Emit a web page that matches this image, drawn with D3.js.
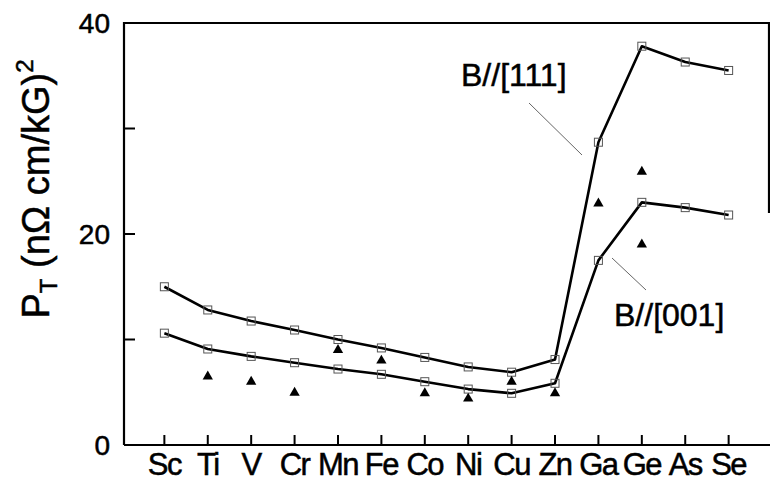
<!DOCTYPE html>
<html>
<head>
<meta charset="utf-8">
<script src="https://cdn.jsdelivr.net/npm/d3@7"></script>
<style>
  body { margin: 0; background: #fff; }
  svg { font-family: "Liberation Sans", Arial, sans-serif; }
  text { stroke: #000; stroke-width: 0.5px; }
</style>
</head>
<body>
<div id="chart"></div>
<script>
const width = 770, height = 477;
const margin = { top: 23, right: 1, bottom: 32, left: 124 };
const innerWidth = width - margin.left - margin.right;
const innerHeight = height - margin.top - margin.bottom;

const elements = ["Sc", "Ti", "V", "Cr", "Mn", "Fe", "Co", "Ni", "Cu", "Zn", "Ga", "Ge", "As", "Se"];
const b111 = [15.0, 12.8, 11.75, 10.9, 10.0, 9.2, 8.3, 7.4, 6.9, 8.1, 28.7, 37.8, 36.3, 35.5];
const b001 = [10.6, 9.1, 8.4, 7.8, 7.2, 6.7, 6.0, 5.3, 4.9, 5.85, 17.5, 23.0, 22.5, 21.8];
const triEl = ["Ti", "V", "Cr", "Mn", "Fe", "Co", "Ni", "Cu", "Zn", "Ga", "Ge", "Ge"];
const triVal = [6.5, 6.0, 4.95, 9.0, 8.0, 4.9, 4.4, 6.0, 4.9, 22.9, 25.9, 19.0];
const yTicks = [0, 10, 20, 30, 40];
const yLabels = [0, 20, 40];

const svg = d3.select("#chart").append("svg")
  .attr("width", width).attr("height", height)
  .attr("viewBox", [0, 0, width, height]);

const g = svg.append("g")
  .attr("transform", `translate(${margin.left}, ${margin.top})`);

const xScale = d3.scalePoint()
  .domain(elements)
  .range([0, innerWidth])
  .padding(0.93);

const yScale = d3.scaleLinear()
  .domain([0, 40])
  .range([innerHeight, 0]);

// frame
g.append("path")
  .attr("d", `M0,${innerHeight}V0H${innerWidth}V${yScale(22)}`)
  .attr("fill", "none").attr("stroke", "#000").attr("stroke-width", 2.2);
g.append("line")
  .attr("x1", 0).attr("x2", innerWidth + 1)
  .attr("y1", innerHeight).attr("y2", innerHeight)
  .attr("stroke", "#000").attr("stroke-width", 2.2);

// y ticks (inward)
g.selectAll(".ytick").data(yTicks.filter(d => d > 0 && d < 40)).join("line")
  .attr("x1", 0).attr("x2", 11)
  .attr("y1", d => yScale(d)).attr("y2", d => yScale(d))
  .attr("stroke", "#000").attr("stroke-width", 2);
g.selectAll(".ylab").data(yLabels).join("text")
  .attr("x", -14).attr("y", d => yScale(d) + 10)
  .attr("text-anchor", "end")
  .attr("font-size", 28)
  .text(d => d);

// x ticks (inward)
g.selectAll(".xtick").data(elements).join("line")
  .attr("x1", d => xScale(d)).attr("x2", d => xScale(d))
  .attr("y1", innerHeight).attr("y2", innerHeight - 10)
  .attr("stroke", "#000").attr("stroke-width", 2);
g.selectAll(".xlab").data(elements).join("text")
  .attr("x", d => xScale(d)).attr("y", innerHeight + 30)
  .attr("text-anchor", "middle")
  .attr("font-size", 31)
  .attr("letter-spacing", -1.5)
  .text(d => d);

// series lines
const line = d3.line()
  .x((d, i) => xScale(elements[i]))
  .y(d => yScale(d));

[b111, b001].forEach(series => {
  g.append("path")
    .datum(series)
    .attr("d", line)
    .attr("fill", "none")
    .attr("stroke", "#000")
    .attr("stroke-width", 2.6)
    .attr("stroke-linejoin", "round");
  g.selectAll(null).data(series).join("rect")
    .attr("x", (d, i) => xScale(elements[i]) - 4)
    .attr("y", d => yScale(d) - 4)
    .attr("width", 8).attr("height", 8)
    .attr("fill", "none")
    .attr("stroke", "#555")
    .attr("stroke-width", 1);
});

// triangles
const tri = d3.symbol().type(d3.symbolTriangle).size(46);
g.selectAll(".tri").data(triVal).join("path")
  .attr("d", tri)
  .attr("transform", (d, i) => `translate(${xScale(triEl[i])}, ${yScale(d)})`)
  .attr("fill", "#000");

// annotations
svg.append("line")
  .attr("x1", 529).attr("y1", 103).attr("x2", 582).attr("y2", 155)
  .attr("stroke", "#666").attr("stroke-width", 1);
svg.append("text")
  .attr("x", 461).attr("y", 86)
  .attr("font-size", 32)
  .text("B//[111]");
svg.append("line")
  .attr("x1", 612).attr("y1", 258).attr("x2", 646).attr("y2", 290)
  .attr("stroke", "#666").attr("stroke-width", 1);
svg.append("text")
  .attr("x", 614).attr("y", 326)
  .attr("font-size", 32)
  .text("B//[001]");

// y axis title
const yt = svg.append("text")
  .attr("transform", "translate(49, 189) rotate(-90)")
  .attr("text-anchor", "middle")
  .attr("font-size", 38);
yt.append("tspan").text("P");
yt.append("tspan").attr("font-size", 24).attr("dy", 8).text("T");
yt.append("tspan").attr("dy", -8).text(" (nΩ cm/kG)");
yt.append("tspan").attr("font-size", 24).attr("dy", -16).text("2");
</script>
</body>
</html>
